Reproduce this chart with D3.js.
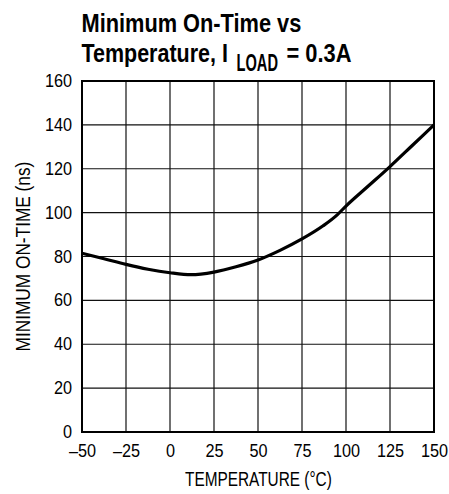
<!DOCTYPE html>
<html>
<head>
<meta charset="utf-8">
<script src="https://cdn.jsdelivr.net/npm/d3@7"></script>
<style>
  body { margin: 0; background: #fff; }
  svg { display: block; }
  text { font-family: "Liberation Sans", Arial, sans-serif; fill: #000; }
</style>
</head>
<body>
<div id="chart"></div>
<script>
// ---- data ----
var temps =   [-50, -37.5, -25, -12.5, 0,   12,   25,   37.5, 50,   62.5, 75, 87, 95, 100, 112.5, 125, 137.5, 150];
var onTimes = [81.5, 79,   76.4, 74.2, 72.6, 71.7, 72.9, 75.3, 78.4, 82.8, 88, 94, 99, 103, 112,  121, 130.5, 140];

var xTicks = [-50, -25, 0, 25, 50, 75, 100, 125, 150];
var yTicks = [0, 20, 40, 60, 80, 100, 120, 140, 160];

var W = 449, H = 494;
var margin = {top: 81, right: 15, bottom: 62, left: 82};
var width = W - margin.left - margin.right;
var height = H - margin.top - margin.bottom;

// no condensed face installed, so squeeze glyphs horizontally around an anchor x
function squeeze(sel, k, ax) {
  sel.attr("transform", "translate(" + ax + ",0) scale(" + k + ",1) translate(" + (-ax) + ",0)");
}

// left-anchored text squeezed to a target width
function fitted(parent, str, px, x0, y0, len, bold) {
  var t = parent.append("text")
    .attr("x", x0).attr("y", y0)
    .style("font-size", px + "px")
    .style("font-weight", bold ? "bold" : null)
    .text(str);
  squeeze(t, len / t.node().getComputedTextLength(), x0);
  return t;
}

var svg = d3.select("#chart").append("svg")
  .attr("width", W)
  .attr("height", H);

//-- title (two lines, subscript LOAD)
fitted(svg, "Minimum On-Time vs", 25.5, 81.5, 32, 220, true);
fitted(svg, "Temperature, I", 25.5, 81.5, 62, 146.5, true);
fitted(svg, "LOAD", 24, 236.5, 71.5, 41.5, true);
fitted(svg, "= 0.3A", 25.5, 286.5, 62, 65, true);

var x = d3.scaleLinear().domain([-50, 150]).range([0, width]);
var y = d3.scaleLinear().domain([0, 160]).range([height, 0]);

var g = svg.append("g")
  .attr("transform", "translate(" + margin.left + "," + margin.top + ")");

//-- grid
g.append("g").selectAll("line").data(xTicks).join("line")
  .attr("x1", function (d) { return x(d); })
  .attr("x2", function (d) { return x(d); })
  .attr("y1", 0).attr("y2", height)
  .attr("stroke", "#111").attr("stroke-width", 1.2);

g.append("g").selectAll("line").data(yTicks).join("line")
  .attr("y1", function (d) { return y(d); })
  .attr("y2", function (d) { return y(d); })
  .attr("x1", 0).attr("x2", width)
  .attr("stroke", "#111").attr("stroke-width", 1.2);

// frame
g.append("rect")
  .attr("width", width).attr("height", height)
  .attr("fill", "none").attr("stroke", "#000").attr("stroke-width", 2);

//-- axes (labels only)
var xAxis = g.append("g")
  .attr("transform", "translate(0," + height + ")")
  .call(d3.axisBottom(x).tickValues(xTicks).tickSize(0).tickPadding(13)
    .tickFormat(function (d) { return d < 0 ? "\u2013" + Math.abs(d) : d; }));
xAxis.select(".domain").remove();
xAxis.selectAll("text").style("font-size", "17.5px").attr("dy", "0.71em")
  .attr("transform", "scale(0.93,1)");

var yAxis = g.append("g")
  .call(d3.axisLeft(y).tickValues(yTicks).tickSize(0).tickPadding(10));
yAxis.select(".domain").remove();
yAxis.selectAll("text").style("font-size", "17.5px");
squeeze(yAxis.selectAll("text"), 0.93, -10);

//-- axis titles
fitted(svg, "TEMPERATURE (\u00B0C)", 20, 185, 486.5, 147, false);

var yt = svg.append("text")
  .attr("x", -95)
  .style("font-size", "20px")
  .text("MINIMUM ON-TIME (ns)");
var k = 190 / yt.node().getComputedTextLength();
yt.attr("transform", "translate(30," + (margin.top + height / 2) + ") rotate(-90) scale(" + k + ",1)")
  .attr("x", -95 / k);

//-- curve
var pts = temps.map(function (t, i) { return [t, onTimes[i]]; });
var line = d3.line()
  .x(function (d) { return x(d[0]); })
  .y(function (d) { return y(d[1]); })
  .curve(d3.curveMonotoneX);

g.append("path")
  .datum(pts)
  .attr("fill", "none")
  .attr("stroke", "#000")
  .attr("stroke-width", 3.2)
  .attr("d", line);
</script>
</body>
</html>
